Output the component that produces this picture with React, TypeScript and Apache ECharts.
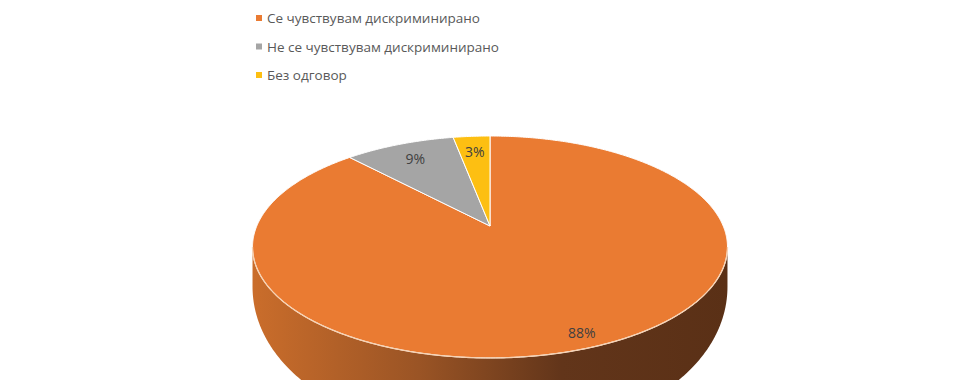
import React, { useEffect, useRef } from "react";
import * as echarts from "echarts";

const categories = [
  "Се чувствувам дискриминирано",
  "Не се чувствувам дискриминирано",
  "Без одговор",
];
const values = [88, 9, 3];
const colors = ["#EA7B32", "#A5A5A5", "#FDBF12"];
const labelRadius = [0.9, 0.8, 0.8];

// projection of the tilted pie (perspective)
const CX = 490;
const CY = 226;
const SX = 233.2;
const SY = 107;
const K = 0.189;
const D0 = 30;
const DM = 50;

function proj(theta: number, f: number, bottom = false): number[] {
  const X = f * Math.sin(theta);
  const Z = f * Math.cos(theta);
  const w = 1 + K * Z;
  const y = CY - (SY * Z) / w + (bottom ? D0 - DM * Z : 0);
  return [CX + (SX * X) / w, y];
}

function arc(a: number, b: number, bottom = false): number[][] {
  const pts: number[][] = [];
  const n = Math.max(2, Math.ceil(Math.abs(b - a) / (Math.PI / 360)));
  for (let i = 0; i <= n; i++) {
    pts.push(proj(a + ((b - a) * i) / n, 1, bottom));
  }
  return pts;
}

export default function App() {
  const ref = useRef<HTMLDivElement>(null);
  useEffect(() => {
    document.body.style.margin = "0";
    if (!ref.current) return;
    const chart = echarts.init(ref.current, undefined, { renderer: "svg" });
    const total = values.reduce((s, v) => s + v, 0);
    const visA = Math.acos(-K);
    const visB = 2 * Math.PI - Math.acos(-K);
    const sideGrad = new echarts.graphic.LinearGradient(
      253,
      0,
      728,
      0,
      [
        { offset: 0, color: "#CA6D2B" },
        { offset: 0.35, color: "#9A5425" },
        { offset: 0.65, color: "#62351A" },
        { offset: 1, color: "#5A3016" },
      ],
      true
    );

    const series = categories.map((name, i) => ({
      type: "custom",
      name,
      coordinateSystem: "none",
      itemStyle: { color: colors[i] },
      data: [[values[i]]],
      renderItem: (params: any, api: any) => {
        const v = api.value(0);
        const before = values.slice(0, i).reduce((s, x) => s + x, 0);
        const s = (before / total) * Math.PI * 2;
        const e = ((before + v) / total) * Math.PI * 2;
        const children: any[] = [];
        const a = Math.max(s, visA);
        const b = Math.min(e, visB);
        if (b > a) {
          const top = arc(a, b, false);
          const bottom = arc(a, b, true).reverse();
          children.push({
            type: "polygon",
            shape: { points: top.concat(bottom) },
            style: { fill: sideGrad, stroke: null },
          });
        }
        const face = [[CX, CY]].concat(arc(s, e, false));
        children.push({
          type: "polygon",
          shape: { points: face },
          style: {
            fill: colors[i],
            stroke: "#FFFFFF",
            lineWidth: 1,
            lineJoin: "round",
          },
        });
        if (b > a) {
          children.push({
            type: "polyline",
            shape: { points: arc(a, b, false) },
            style: { stroke: "#F6D2B4", lineWidth: 1.3, fill: null },
          });
        }
        const mid = (s + e) / 2;
        const lp = proj(mid, labelRadius[i]);
        children.push({
          type: "text",
          x: lp[0],
          y: lp[1],
          style: {
            text: Math.round((v / total) * 100) + "%",
            fill: "#404040",
            fontSize: 14,
            fontFamily: "Open Sans",
            align: "center",
            verticalAlign: "middle",
          },
        });
        return { type: "group", children };
      },
    }));

    chart.setOption({
      animation: false,
      backgroundColor: "#FFFFFF",
      legend: {
        orient: "vertical",
        left: 256,
        top: 11,
        padding: 0,
        icon: "rect",
        itemWidth: 6,
        itemHeight: 6,
        itemGap: 14.5,
        data: categories,
        textStyle: { fontSize: 13.5, color: "#595959", fontFamily: "Open Sans" },
      },
      series,
    } as any);
    return () => chart.dispose();
  }, []);
  return <div ref={ref} style={{ width: 980, height: 380 }} />;
}
